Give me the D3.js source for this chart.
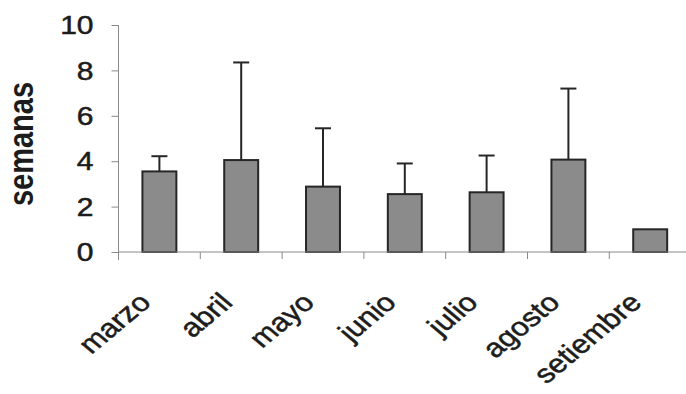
<!DOCTYPE html>
<html>
<head>
<meta charset="utf-8">
<script src="https://cdn.jsdelivr.net/npm/d3@7"></script>
<style>
  html, body { margin: 0; padding: 0; background: #ffffff; }
  svg { display: block; font-family: "Liberation Sans", Arial, sans-serif; }
</style>
</head>
<body>
<svg id="chart" width="686" height="394"></svg>
<script>
// Monthly duration in weeks (mean and upper error bound)
const months = ["marzo", "abril", "mayo", "junio", "julio", "agosto", "setiembre"];
const means  = [3.55, 4.05, 2.88, 2.55, 2.63, 4.07, 1.0];
const upper  = [4.22, 8.35, 5.45, 3.9, 4.25, 7.2, null];
const yTicks = [0, 2, 4, 6, 8, 10];
const yLabel = "semanas";

const svg = d3.select("#chart");
const stretch = 1.2;           // text is drawn horizontally widened
const ink = "#1c1c1c";

const x0 = 118.5, yBase = 252, yTop = 25;
const x = d3.scaleBand().domain(months).range([x0, x0 + 7 * 81.8])
  .paddingInner(0.585).paddingOuter(0.2925);
const y = d3.scaleLinear().domain([0, 10]).range([yBase, yTop]);

// bars
svg.append("g").selectAll("rect").data(months).join("rect")
  .attr("x", d => x(d))
  .attr("y", (d, i) => y(means[i]))
  .attr("width", x.bandwidth())
  .attr("height", (d, i) => y(0) - y(means[i]))
  .attr("fill", "#8b8b8b")
  .attr("stroke", "#262626")
  .attr("stroke-width", 2);

// error bars (upper only)
const eb = svg.append("g").attr("stroke", "#262626").attr("stroke-width", 2);
months.forEach((m, i) => {
  if (upper[i] == null) return;
  const cx = x(m) + x.bandwidth() / 2;
  eb.append("line").attr("x1", cx).attr("x2", cx)
    .attr("y1", y(means[i])).attr("y2", y(upper[i]));
  eb.append("line").attr("x1", cx - 8).attr("x2", cx + 8)
    .attr("y1", y(upper[i])).attr("y2", y(upper[i]));
});

// y axis
const yAxis = svg.append("g").attr("transform", `translate(${x0},0)`)
  .call(d3.axisLeft(y).tickValues(yTicks).tickSize(7).tickSizeOuter(0).tickFormat(d3.format("d")));
yAxis.select(".domain").attr("stroke", "#8a8a8a").attr("d", `M0,${yTop}V${yBase + 8}`);
yAxis.selectAll(".tick line").attr("stroke", "#8a8a8a");
yAxis.selectAll(".tick text")
  .attr("x", 0).attr("dy", null)
  .attr("dominant-baseline", "central")
  .attr("transform", `translate(-25,0) scale(${stretch},1)`)
  .attr("font-size", 25)
  .attr("fill", ink)
  .attr("stroke", ink).attr("stroke-width", 0.5);

// x axis with ticks between categories
const step = x.step();
const bounds = d3.range(0, months.length + 1).map(i => x0 + i * step);
const xAxis = svg.append("g");
xAxis.append("line").attr("x1", x0).attr("x2", 686)
  .attr("y1", yBase).attr("y2", yBase)
  .attr("stroke", "#8a8a8a");
xAxis.selectAll("line.tk").data(bounds.slice(1)).join("line")
  .attr("class", "tk")
  .attr("x1", d => d).attr("x2", d => d)
  .attr("y1", yBase).attr("y2", yBase + 7)
  .attr("stroke", "#8a8a8a");

// rotated category labels
svg.append("g").selectAll("text").data(months).join("text")
  .attr("transform", d => `translate(${x(d) + x.bandwidth() / 2 - 7},${yBase + 52}) scale(${stretch},1) rotate(-45)`)
  .attr("text-anchor", "end")
  .attr("font-size", 26)
  .attr("fill", ink)
  .attr("stroke", ink).attr("stroke-width", 0.5)
  .text(d => d);

// y axis title
svg.append("text")
  .attr("transform", `translate(33,144) scale(${stretch},1) rotate(-90)`)
  .attr("text-anchor", "middle")
  .attr("font-size", 29)
  .attr("font-weight", "bold")
  .attr("fill", ink)
  .text(yLabel);
</script>
</body>
</html>
